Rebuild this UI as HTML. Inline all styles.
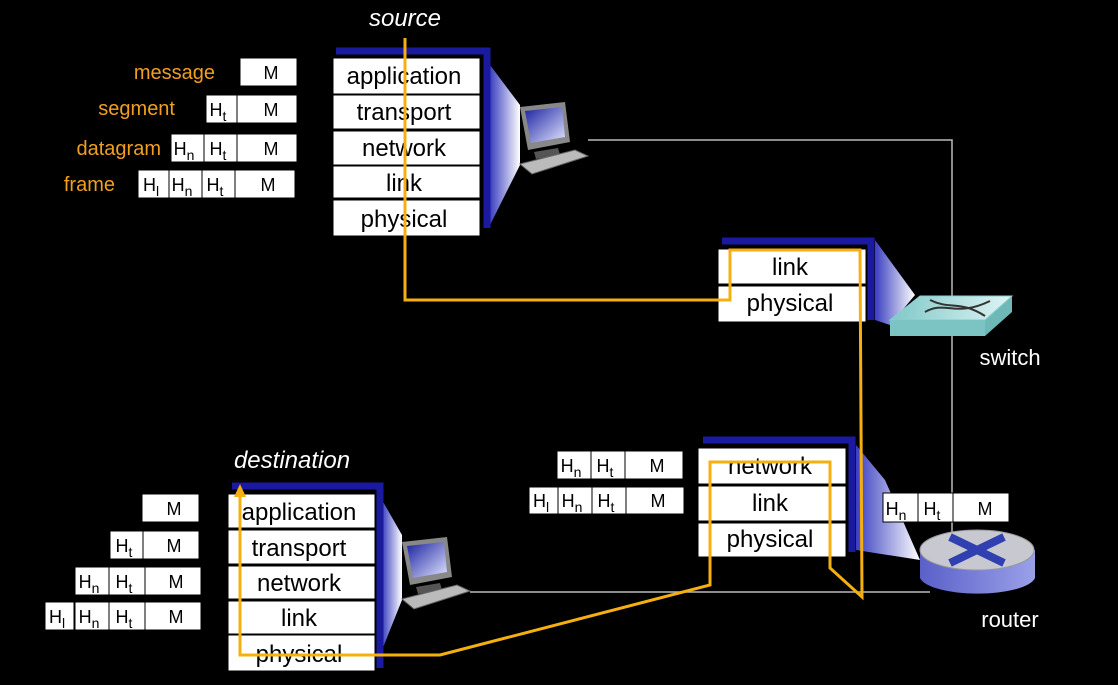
<!DOCTYPE html>
<html><head><style>
html,body{margin:0;padding:0;background:#000;}
svg{display:block;}
text{font-family:"Liberation Sans",sans-serif;}
</style></head><body>
<svg width="1118" height="685" viewBox="0 0 1118 685" xmlns="http://www.w3.org/2000/svg">
<defs>
<linearGradient id="fun" x1="0" x2="1" y1="0" y2="0">
<stop offset="0" stop-color="#3a3fc0"/><stop offset="1" stop-color="#ffffff"/>
</linearGradient>
<linearGradient id="scr" x1="0" x2="1" y1="0" y2="1">
<stop offset="0" stop-color="#1a20a0"/><stop offset="1" stop-color="#e0e4ff"/>
</linearGradient>
<linearGradient id="sw" x1="0" x2="1"><stop offset="0" stop-color="#7fc8c8"/><stop offset="1" stop-color="#e0f4f4"/></linearGradient>
<linearGradient id="rt" x1="0" x2="1"><stop offset="0" stop-color="#5a60c8"/><stop offset="1" stop-color="#9aa0e8"/></linearGradient>
<g id="pc">
<polygon points="0,5 45,0 50,40 8,48" fill="#888"/>
<polygon points="5,9 42,5 45,35 11,41" fill="url(#scr)"/>
<polygon points="14,50 38,46 40,53 16,57" fill="#555"/>
<polygon points="0,62 55,48 68,54 12,72" fill="#bbb" stroke="#666"/>
</g>
</defs>

<!-- thin network lines -->
<g stroke="#bbb" stroke-width="1.5" fill="none">
<polyline points="588,140 952,140 952,560"/>
<line x1="470" y1="592" x2="930" y2="592"/>
</g>

<!-- source -->
<text x="405" y="26" fill="#fff" font-size="24" font-style="italic" text-anchor="middle">source</text>
<polygon points="490,65 520,105 520,165 490,225" fill="url(#fun)"/>
<path d="M336,51 H487 V228" stroke="#1a1aa0" stroke-width="7" fill="none"/>
<g fill="#fff" stroke="#000" stroke-width="1">
<rect x="333" y="58" width="147" height="36"/>
<rect x="333" y="95" width="147" height="34"/>
<rect x="333" y="131" width="147" height="34"/>
<rect x="333" y="166" width="147" height="32"/>
<rect x="333" y="200" width="147" height="36"/>
</g>
<g font-size="24" fill="#000" text-anchor="middle">
<text x="404" y="84">application</text>
<text x="404" y="120">transport</text>
<text x="404" y="156">network</text>
<text x="404" y="191">link</text>
<text x="404" y="227">physical</text>
</g>
<use href="#pc" x="520" y="102"/>

<!-- source packets -->
<g font-size="20" fill="#f0a020" text-anchor="end">
<text x="215" y="79">message</text>
<text x="175" y="115">segment</text>
<text x="161" y="155">datagram</text>
<text x="115" y="191">frame</text>
</g>
<g fill="#fff" stroke="#000">
<rect x="240" y="58" width="57" height="28"/>
<rect x="206" y="95" width="31" height="28"/><rect x="237" y="95" width="60" height="28"/>
<rect x="171" y="134" width="33" height="28"/><rect x="204" y="134" width="33" height="28"/><rect x="237" y="134" width="60" height="28"/>
<rect x="138" y="170" width="31" height="28"/><rect x="169" y="170" width="33" height="28"/><rect x="202" y="170" width="33" height="28"/><rect x="235" y="170" width="60" height="28"/>
</g>

<!-- switch -->
<polygon points="875,240 915,295 890,325 875,320" fill="url(#fun)"/>
<path d="M722,241 H871 V320" stroke="#1a1aa0" stroke-width="7" fill="none"/>
<g fill="#fff" stroke="#000">
<rect x="718" y="249" width="148" height="35"/>
<rect x="718" y="286" width="148" height="36"/>
</g>
<g font-size="24" fill="#000" text-anchor="middle">
<text x="790" y="275">link</text>
<text x="790" y="311">physical</text>
</g>
<polygon points="890,320 920,296 1012,296 1012,312 985,336 890,336" fill="#6fb8b8"/>
<polygon points="890,320 920,296 1012,296 985,320" fill="url(#sw)" stroke="#8cc"/>
<rect x="890" y="320" width="95" height="16" fill="#7cc4c4"/>
<path d="M925,312 C945,300 955,318 990,301 M930,300 C950,310 960,300 985,316" stroke="#333" stroke-width="2" fill="none"/>
<text x="1010" y="365" fill="#fff" font-size="22" text-anchor="middle">switch</text>

<!-- router -->
<polygon points="856,445 885,480 920,560 856,550" fill="url(#fun)"/>
<path d="M703,440 H852 V552" stroke="#1a1aa0" stroke-width="7" fill="none"/>
<g fill="#fff" stroke="#000">
<rect x="698" y="448" width="148" height="36"/>
<rect x="698" y="486" width="148" height="35"/>
<rect x="698" y="523" width="148" height="34"/>
</g>
<g font-size="24" fill="#000" text-anchor="middle">
<text x="770" y="474">network</text>
<text x="770" y="511">link</text>
<text x="770" y="547">physical</text>
</g>
<path d="M920,550 V578 A58,18 0 0 0 1035,578 V550" fill="url(#rt)"/>
<ellipse cx="977" cy="550" rx="57" ry="20" fill="#c8c8d0" stroke="#999"/>
<path d="M950,537 L1004,563 M1004,537 L950,563" stroke="#3040b0" stroke-width="8"/>
<text x="1010" y="627" fill="#fff" font-size="22" text-anchor="middle">router</text>

<g fill="#fff" stroke="#000">
<rect x="883" y="493" width="35" height="29"/><rect x="918" y="493" width="35" height="29"/><rect x="953" y="493" width="56" height="29"/>
<rect x="557" y="451" width="34" height="28"/><rect x="591" y="451" width="34" height="28"/><rect x="625" y="451" width="58" height="28"/>
<rect x="529" y="487" width="29" height="27"/><rect x="558" y="487" width="34" height="27"/><rect x="592" y="487" width="34" height="27"/><rect x="626" y="487" width="58" height="27"/>
</g>

<!-- destination -->
<text x="292" y="468" fill="#fff" font-size="24" font-style="italic" text-anchor="middle">destination</text>
<polygon points="382,500 402,535 402,600 382,650" fill="url(#fun)"/>
<path d="M232,486 H380 V668" stroke="#1a1aa0" stroke-width="7" fill="none"/>
<g fill="#fff" stroke="#000">
<rect x="228" y="494" width="147" height="34"/>
<rect x="228" y="530" width="147" height="34"/>
<rect x="228" y="566" width="147" height="33"/>
<rect x="228" y="601" width="147" height="33"/>
<rect x="228" y="635" width="147" height="36"/>
</g>
<g font-size="24" fill="#000" text-anchor="middle">
<text x="299" y="520">application</text>
<text x="299" y="556">transport</text>
<text x="299" y="591">network</text>
<text x="299" y="626">link</text>
<text x="299" y="662">physical</text>
</g>
<use href="#pc" x="402" y="537"/>
<g fill="#fff" stroke="#000">
<rect x="142" y="494" width="57" height="28"/>
<rect x="110" y="531" width="33" height="28"/><rect x="143" y="531" width="56" height="28"/>
<rect x="75" y="567" width="34" height="28"/><rect x="109" y="567" width="36" height="28"/><rect x="145" y="567" width="56" height="28"/>
<rect x="45" y="602" width="29" height="28"/><rect x="75" y="602" width="34" height="28"/><rect x="109" y="602" width="36" height="28"/><rect x="145" y="602" width="56" height="28"/>
</g>

<!-- header labels -->
<g font-size="18" fill="#000" text-anchor="middle">
<text x="271" y="79">M</text>
<text x="218" y="116">H<tspan font-size="14" dy="5">t</tspan></text><text x="271" y="116">M</text>
<text x="184" y="155">H<tspan font-size="14" dy="5">n</tspan></text><text x="218" y="155">H<tspan font-size="14" dy="5">t</tspan></text><text x="271" y="155">M</text>
<text x="151" y="191">H<tspan font-size="14" dy="5">l</tspan></text><text x="182" y="191">H<tspan font-size="14" dy="5">n</tspan></text><text x="215" y="191">H<tspan font-size="14" dy="5">t</tspan></text><text x="268" y="191">M</text>
<text x="896" y="515">H<tspan font-size="14" dy="5">n</tspan></text><text x="932" y="515">H<tspan font-size="14" dy="5">t</tspan></text><text x="985" y="515">M</text>
<text x="571" y="472">H<tspan font-size="14" dy="5">n</tspan></text><text x="605" y="472">H<tspan font-size="14" dy="5">t</tspan></text><text x="657" y="472">M</text>
<text x="541" y="507">H<tspan font-size="14" dy="5">l</tspan></text><text x="572" y="507">H<tspan font-size="14" dy="5">n</tspan></text><text x="606" y="507">H<tspan font-size="14" dy="5">t</tspan></text><text x="658" y="507">M</text>
<text x="174" y="515">M</text>
<text x="124" y="552">H<tspan font-size="14" dy="5">t</tspan></text><text x="174" y="552">M</text>
<text x="89" y="588">H<tspan font-size="14" dy="5">n</tspan></text><text x="124" y="588">H<tspan font-size="14" dy="5">t</tspan></text><text x="176" y="588">M</text>
<text x="57" y="623">H<tspan font-size="14" dy="5">l</tspan></text><text x="89" y="623">H<tspan font-size="14" dy="5">n</tspan></text><text x="124" y="623">H<tspan font-size="14" dy="5">t</tspan></text><text x="176" y="623">M</text>
</g>

<!-- orange path -->
<polyline points="405,38 405,300 730,300 730,250 860,250 862,597 830,568 830,462 710,462 710,585 440,655 240,655 240,494" fill="none" stroke="#f5b010" stroke-width="3"/>
<polygon points="240,484 234,497 246,497" fill="#f5b010"/>
</svg>
</body></html>
